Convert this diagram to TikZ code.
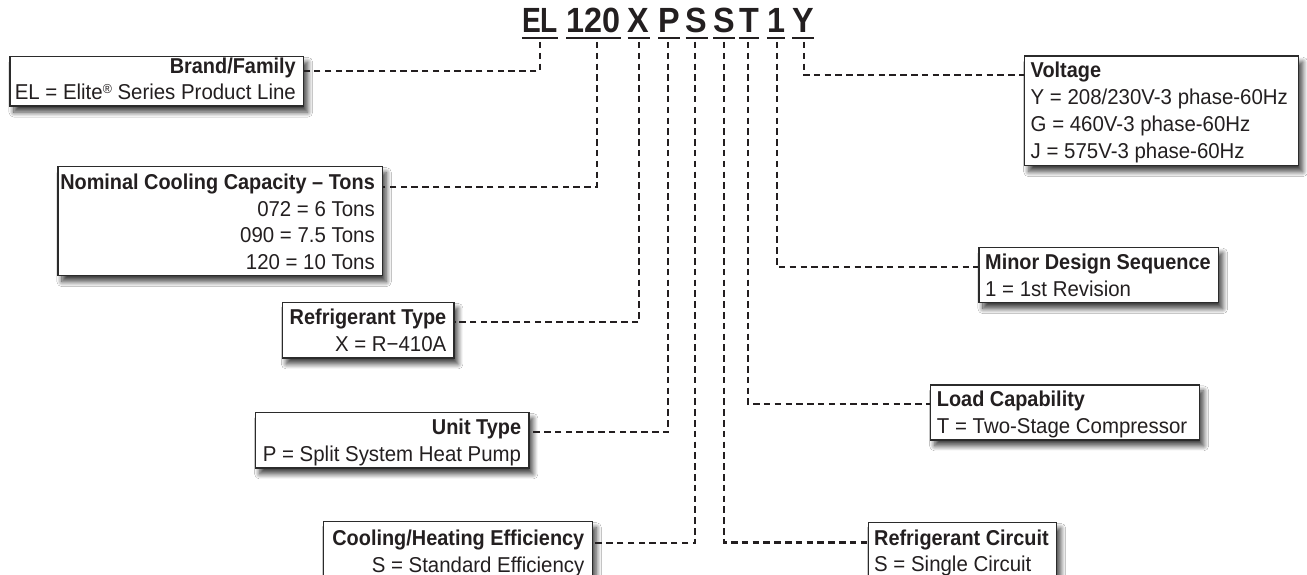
\documentclass[tikz,border=0pt]{standalone}
\usepackage{fontspec}
\setmainfont{Liberation Sans}[FakeStretch=0.95, BoldFeatures={FakeStretch=0.925}]
\usetikzlibrary{shadows.blur}
\definecolor{txt}{HTML}{231F20}
\definecolor{boxc}{HTML}{2B2B2B}
\tikzset{
  box/.style={draw=boxc, line width=1.3pt, fill=white, inner sep=0pt, anchor=north west,
    blur shadow={shadow xshift=4pt, shadow yshift=-6pt, shadow blur radius=5pt, shadow blur steps=12, shadow opacity=75}},
  ttl/.style={font=\bfseries\fontsize{21.5}{26}\selectfont, inner sep=0pt, text=txt},
  val/.style={font=\fontsize{21.5}{26}\selectfont, inner sep=0pt, text=txt},
  ttlR/.style={ttl, anchor=base east}, valR/.style={val, anchor=base east},
  ttlL/.style={ttl, anchor=base west}, valL/.style={val, anchor=base west},
  code/.style={font=\bfseries\fontsize{35}{40}\selectfont, inner sep=0pt, text=txt, anchor=base},
  uline/.style={draw=txt, line width=2.3pt},
  lead/.style={draw=txt, line width=2.2pt, dash pattern=on 6.5pt off 4.3pt},
}
\newcommand{\regmark}{{\fontsize{13}{13}\selectfont\raisebox{6pt}{®}}}
\begin{document}
\begin{tikzpicture}[x=1pt,y=-1pt]
\useasboundingbox (0,0) rectangle (1307,575);
\clip (0,0) rectangle (1307,575);
\fill[white] (0,0) rectangle (1307,575);

% ---- code letters ----
\node[code] (cEL) at (540,33) {\scalebox{0.87}[1]{EL}};
\node[code] (c120) at (593.3,33) {120};
\node[code] (cX) at (638.5,33) {X};
\node[code] (cP) at (669,33) {P};
\node[code] (cS1) at (696.5,33) {S};
\node[code] (cS2) at (724,33) {S};
\node[code] (cT) at (749,33) {T};
\node[code] (c1) at (776,33) {1};
\node[code] (cY) at (803,33) {Y};
\foreach \n in {cEL,c120,cX,cP,cS1,cS2,cT,c1,cY}{
  \draw[uline] ([yshift=-4.7pt]\n.base west) -- ([yshift=-4.7pt]\n.base east);
}
\coordinate (pEL) at ([yshift=-9pt]cEL.base);
\coordinate (p120) at ([xshift=3.7pt,yshift=-9pt]c120.base);
\coordinate (pX) at ([xshift=0.5pt,yshift=-9pt]cX.base);
\coordinate (pP) at ([xshift=-1pt,yshift=-9pt]cP.base);
\coordinate (pS1) at ([xshift=-1.5pt,yshift=-9pt]cS1.base);
\coordinate (pS2) at ([yshift=-9pt]cS2.base);
\coordinate (pT) at ([xshift=-1pt,yshift=-9pt]cT.base);
\coordinate (p1) at ([xshift=1pt,yshift=-9pt]c1.base);
\coordinate (pY) at ([xshift=1pt,yshift=-9pt]cY.base);

% ---- left boxes ----
\node[box, minimum width=293.7pt, minimum height=49.8pt] (bBrand) at (9.3,55.7) {};
\node[ttlR] (tBrand) at (296,73.5) {Brand/Family};
\node[valR] at (296,100) {EL = Elite\regmark{} Series Product Line};

\node[box, minimum width=324.4pt, minimum height=109pt] (bNom) at (57.3,166) {};
\node[ttlR] (tNom) at (375,189.5) {Nominal Cooling Capacity – Tons};
\node[valR] at (375,216) {072 = 6 Tons};
\node[valR] at (375,242.5) {090 = 7.5 Tons};
\node[valR] at (375,269) {120 = 10 Tons};

\node[box, minimum width=171.6pt, minimum height=55.6pt] (bRef) at (281.7,301.7) {};
\node[ttlR] (tRef) at (446.5,324.8) {Refrigerant Type};
\node[valR] at (446.5,351.3) {X = R−410A};

\node[box, minimum width=273.3pt, minimum height=55.6pt] (bUnit) at (255,411.7) {};
\node[ttlR] (tUnit) at (521.3,434.8) {Unit Type};
\node[valR] at (521.3,461.3) {P = Split System Heat Pump};

\node[box, minimum width=269pt, minimum height=56pt] (bEff) at (322.7,521) {};
\node[ttlR] (tEff) at (584.5,545.5) {Cooling/Heating Efficiency};
\node[valR] at (584.5,572) {S = Standard Efficiency};

% ---- right boxes ----
\node[box, minimum width=274pt, minimum height=109.5pt] (bVolt) at (1024,55.5) {};
\node[ttlL] (tVolt) at (1030.5,78) {Voltage};
\node[valL] at (1030.5,104.8) {Y = 208/230V-3 phase-60Hz};
\node[valL] at (1030.5,131.6) {G = 460V-3 phase-60Hz};
\node[valL] at (1030.5,158.4) {J = 575V-3 phase-60Hz};

\node[box, minimum width=239.7pt, minimum height=55.5pt] (bMin) at (978.3,246.5) {};
\node[ttlL] (tMin) at (985,269.5) {Minor Design Sequence};
\node[valL] at (985,296) {1 = 1st Revision};

\node[box, minimum width=269pt, minimum height=55pt] (bLoad) at (930,384.2) {};
\node[ttlL] (tLoad) at (936.7,406.7) {Load Capability};
\node[valL] at (936.7,433.2) {T = Two-Stage Compressor};

\node[box, minimum width=188.3pt, minimum height=56pt] (bCir) at (867.7,521.7) {};
\node[ttlL] (tCir) at (874,545.2) {Refrigerant Circuit};
\node[valL] at (874,571.7) {S = Single Circuit};

% ---- leaders ----
\draw[lead] (pEL) |- (bBrand.east |- tBrand.mid);
\draw[lead] (p120) |- (bNom.east |- tNom.mid);
\draw[lead] (pX) |- (bRef.east |- tRef.mid);
\draw[lead] (pP) |- (bUnit.east |- tUnit.mid);
\draw[lead] (pS1) |- (bEff.east |- tEff.mid);
\draw[lead] (pY) |- (bVolt.west |- tVolt.mid);
\draw[lead] (p1) |- (bMin.west |- tMin.mid);
\draw[lead] (pT) |- (bLoad.west |- tLoad.mid);
\draw[lead] (pS2) |- (bCir.west |- tCir.mid);
\end{tikzpicture}
\end{document}
